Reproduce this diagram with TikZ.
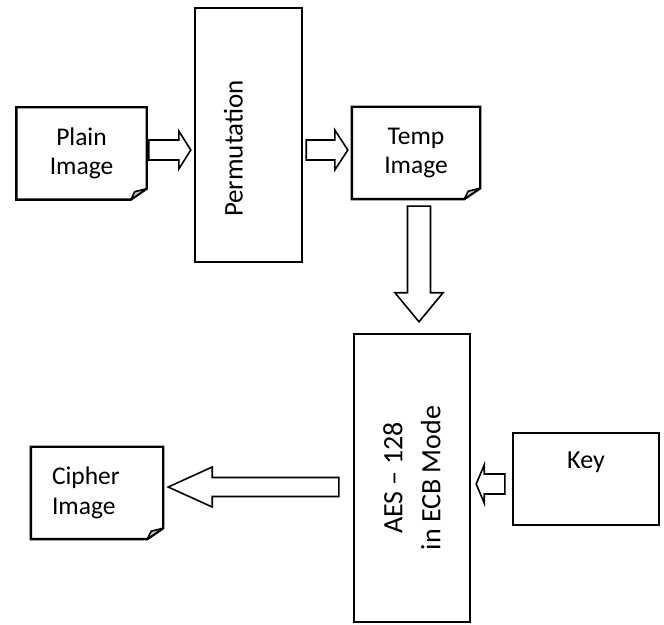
\documentclass[tikz,border=0pt]{standalone}
\usepackage{fontspec}
\setmainfont{Carlito}
\usetikzlibrary{positioning,calc}

\newcommand{\fatarrow}[5]{% tail, tip, shaft half width, head half width, head length
  \coordinate (fb) at ($(#2)!#5!(#1)$);
  \draw[fat] ($(#1)!#3!90:(#2)$) -- ($(fb)!#3!-90:(#1)$) -- ($(fb)!#4!-90:(#1)$) -- (#2)
    -- ($(fb)!#4!90:(#1)$) -- ($(fb)!#3!90:(#1)$) -- ($(#1)!#3!-90:(#2)$) -- cycle;
}

\begin{document}
\begin{tikzpicture}[
        x=1pt, y=1pt,
        blk/.style={rectangle, draw, line width=2.4pt, inner sep=0pt},
        doc/.style={rectangle, inner sep=0pt, minimum width=130pt, minimum height=92pt, align=center, font=\fontsize{25.5}{29.5}\selectfont},
        docline/.style={line width=2.4pt, line join=miter},
        fold/.style={line width=1.6pt, fill=gray!45, line join=round},
        fat/.style={line width=1.6pt, fill=white, line join=miter},
        txt/.style={inner sep=0pt}
    ]
    \useasboundingbox (0,0) rectangle (664,624);

    % documents
    \node[doc] (plain) at (81.5,470.5) {Plain\\Image};
    \node[doc, minimum width=128pt] (temp) at (416,471) {Temp\\Image};
    \node[doc, minimum width=132pt, text width=90pt, inner xsep=21pt, align=left] (cipher) at (97,131) {Cipher\\Image};

    % blocks
    \node[blk, minimum width=107pt, minimum height=254pt] (perm) at (248.5,489) {};
    \node[txt, rotate=90, font=\fontsize{27}{32}\selectfont] (permtxt) at ([xshift=-15pt, yshift=-13.5pt]perm.center) {Permutation};
    \node[blk, minimum width=116pt, minimum height=288pt] (aes) at (412,146) {};
    \node[txt, rotate=90, align=center, font=\fontsize{28}{38}\selectfont] (aestxt) at (aes.center) {AES -- 128\\in ECB Mode};
    \node[blk, minimum width=146pt, minimum height=92pt] (key) at (586,145) {};
    \node[txt, font=\fontsize{26}{31}\selectfont, below=20pt of key.north] (keytxt) {Key};

    \foreach \d in {plain,temp,cipher}{
        \draw[docline] (\d.north west) -- (\d.north east) -- ([yshift=11pt]\d.south east)
            -- ([xshift=-16pt]\d.south east) -- (\d.south west) -- cycle;
        \draw[fold] ([yshift=11pt]\d.south east) -- ([xshift=-16pt]\d.south east)
            -- ([xshift=-12pt, yshift=8pt]\d.south east) -- cycle;
    }

    % block arrows
    \coordinate (a1) at ([shift={(2pt,3.5pt)}]plain.east);
    \coordinate (b1) at ([xshift=-3pt]a1 -| perm.west);
    \coordinate (a2) at ([shift={(3pt,3pt)}]temp.west -| perm.east);
    \coordinate (b2) at ([xshift=-4pt]temp.west |- a2);
    \coordinate (a3) at ([shift={(3pt,-7pt)}]temp.south);
    \coordinate (b3) at ([yshift=11pt]a3 |- aes.north);
    \coordinate (a4) at ([shift={(-14pt,-9pt)}]aes.west);
    \coordinate (b4) at ([xshift=5pt]a4 -| cipher.east);
    \coordinate (a5) at ([shift={(-7pt,-5pt)}]key.west);
    \coordinate (b5) at ([xshift=5pt]a5 -| aes.east);

    \fatarrow{a1}{b1}{10pt}{19pt}{12pt}
    \fatarrow{a2}{b2}{10pt}{20pt}{13pt}
    \fatarrow{a3}{b3}{11.5pt}{24pt}{29pt}
    \fatarrow{a4}{b4}{9.5pt}{20pt}{44pt}
    \fatarrow{a5}{b5}{10pt}{19pt}{8pt}

\end{tikzpicture}
\end{document}
